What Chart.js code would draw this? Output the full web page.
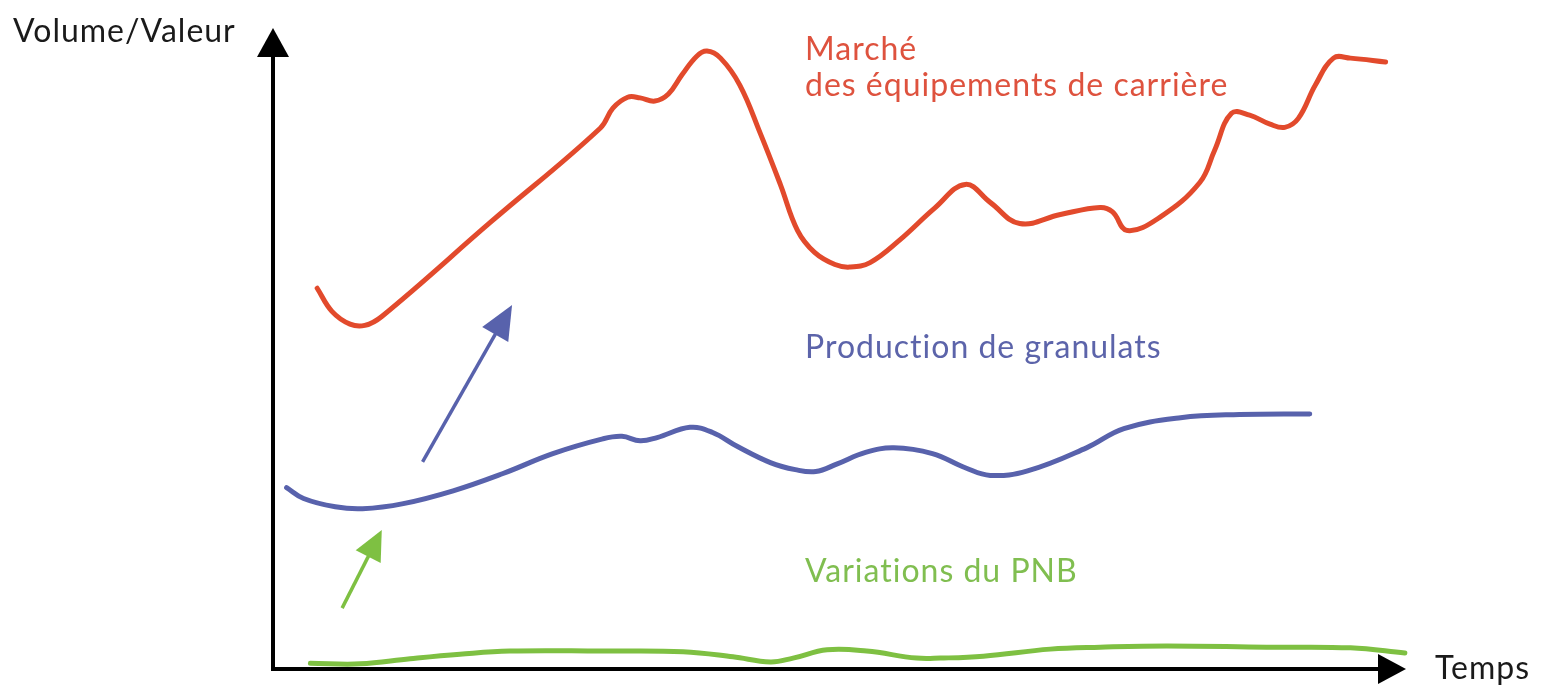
<!DOCTYPE html>
<html>
<head>
<meta charset="utf-8">
<script src="https://cdn.jsdelivr.net/npm/chart.js@4/dist/chart.umd.min.js"></script>
<style>
  html, body { margin: 0; padding: 0; background: #ffffff; overflow: hidden; }
  #wrap { width: 1546px; height: 685px; position: relative; }
</style>
</head>
<body>
<div id="wrap"><canvas id="c" width="1546" height="685"></canvas></div>
<script>
// Time axis (0-100) and value axis (0-100) in arbitrary units.
const marcheT = [3.9, 5.2, 6.8, 8.1, 9.6, 19.2, 28.9, 30.0, 31.3, 32.4, 33.7, 34.9, 36.1, 37.4, 38.3, 39.5, 41.2, 43.0, 44.8, 46.3, 47.8, 49.6, 50.9, 52.7, 55.3, 58.4, 61.1, 63.3, 65.9, 69.5, 73.0, 74.1, 75.4, 78.3, 81.8, 83.1, 84.6, 86.2, 88.0, 89.3, 90.5, 92.0, 93.6, 95.1, 98.2];
const marcheV = [59.4, 55.8, 53.8, 53.6, 55.0, 69.7, 84.4, 87.5, 89.2, 89.1, 88.6, 89.7, 92.7, 95.6, 96.4, 95.3, 91.1, 83.6, 75.5, 68.4, 65.0, 63.1, 62.7, 63.4, 66.9, 71.9, 75.6, 72.8, 69.5, 70.9, 72.0, 71.3, 68.4, 70.5, 75.9, 80.9, 86.7, 86.4, 85.0, 84.5, 85.9, 91.1, 95.3, 95.3, 94.7];

const granulatsT = [1.2, 2.7, 5.5, 7.9, 11.5, 15.9, 20.3, 24.7, 29.1, 30.8, 32.4, 33.9, 36.8, 38.8, 41.0, 43.9, 46.1, 47.9, 49.8, 52.3, 54.8, 58.2, 61.1, 63.3, 66.6, 71.8, 75.1, 80.1, 85.3, 91.5];
const granulatsV = [28.3, 26.6, 25.3, 25.0, 25.8, 27.8, 30.5, 33.6, 35.9, 36.3, 35.6, 36.1, 37.7, 36.9, 34.7, 32.2, 31.1, 30.8, 32.0, 33.8, 34.5, 33.6, 31.4, 30.2, 30.9, 34.5, 37.5, 39.2, 39.7, 39.8];

const pnbT = [3.3, 7.7, 12.1, 16.5, 20.9, 28.9, 36.2, 40.6, 43.9, 45.9, 48.9, 52.4, 56.8, 58.9, 62.7, 68.6, 73.0, 78.9, 87.7, 95.1, 99.9];
const pnbV = [0.9, 0.8, 1.6, 2.3, 2.8, 2.8, 2.7, 1.9, 1.1, 1.7, 3.0, 2.8, 1.7, 1.7, 2.0, 3.1, 3.4, 3.6, 3.4, 3.3, 2.5];

// Trend arrows: [tailT, tailV, tipT, tipV]
const granulatsArrow = [13.2, 32.3, 21.1, 56.8];
const pnbArrow = [6.1, 9.5, 9.6, 21.7];

const seriesNames = ['Marché\ndes équipements de carrière', 'Production de granulats', 'Variations du PNB'];
const axisTitles = ['Volume/Valeur', 'Temps'];

const RED = 'rgb(226, 74, 44)';
const BLUE = 'rgb(88, 98, 172)';
const GREEN = 'rgb(126, 192, 66)';
const RED_TXT = 'rgb(222, 82, 62)';
const BLUE_TXT = 'rgb(92, 100, 170)';
const GREEN_TXT = 'rgb(128, 190, 80)';
const FONT = 'Lato, "Open Sans", sans-serif';

const toPoints = (ts, vs) => ts.map((t, i) => ({ x: t, y: vs[i] }));

function arrowHead(ctx, x1, y1, x2, y2, len, half, color) {
  const a = Math.atan2(y2 - y1, x2 - x1);
  ctx.save();
  ctx.fillStyle = color;
  ctx.beginPath();
  ctx.moveTo(x2, y2);
  ctx.lineTo(x2 - len * Math.cos(a) + half * Math.sin(a), y2 - len * Math.sin(a) - half * Math.cos(a));
  ctx.lineTo(x2 - len * Math.cos(a) - half * Math.sin(a), y2 - len * Math.sin(a) + half * Math.cos(a));
  ctx.closePath();
  ctx.fill();
  ctx.restore();
}

const decorations = {
  id: 'decorations',
  afterDatasetsDraw(chart) {
    const { ctx, chartArea: ca, scales } = chart;
    const xs = scales.x, ys = scales.y;

    // Axes with arrowheads
    ctx.save();
    ctx.strokeStyle = '#000';
    ctx.lineWidth = 4;
    ctx.lineCap = 'butt';
    ctx.beginPath();
    ctx.moveTo(ca.left, ca.top + 20);
    ctx.lineTo(ca.left, ca.bottom);
    ctx.lineTo(ca.right - 20, ca.bottom);
    ctx.stroke();
    ctx.restore();
    arrowHead(ctx, ca.left, ca.bottom, ca.left, ca.top, 29, 16, '#000');
    arrowHead(ctx, ca.left, ca.bottom, ca.right, ca.bottom, 28, 15, '#000');

    // Trend arrows
    const drawTrend = (arr, color, width, len, half) => {
      const x1 = xs.getPixelForValue(arr[0]), y1 = ys.getPixelForValue(arr[1]);
      const x2 = xs.getPixelForValue(arr[2]), y2 = ys.getPixelForValue(arr[3]);
      const a = Math.atan2(y2 - y1, x2 - x1);
      ctx.save();
      ctx.strokeStyle = color;
      ctx.lineWidth = width;
      ctx.beginPath();
      ctx.moveTo(x1, y1);
      ctx.lineTo(x2 - (len - 4) * Math.cos(a), y2 - (len - 4) * Math.sin(a));
      ctx.stroke();
      ctx.restore();
      arrowHead(ctx, x1, y1, x2, y2, len, half, color);
    };
    drawTrend(granulatsArrow, BLUE, 3.5, 34, 15);
    drawTrend(pnbArrow, GREEN, 3.5, 30, 14);

    // Texts
    ctx.save();
    ctx.textAlign = 'left';
    ctx.textBaseline = 'alphabetic';
    ctx.font = '32px ' + FONT;
    if ('letterSpacing' in ctx) ctx.letterSpacing = '1px';
    ctx.fillStyle = '#1a1a1a';
    ctx.fillText(axisTitles[0], 13, 42);
    ctx.fillText(axisTitles[1], 1435, 679);

    ctx.fillStyle = RED_TXT;
    const lines = seriesNames[0].split('\n');
    ctx.fillText(lines[0], 805, 60);
    ctx.fillText(lines[1], 805, 96);
    ctx.fillStyle = BLUE_TXT;
    ctx.fillText(seriesNames[1], 805, 358);
    ctx.fillStyle = GREEN_TXT;
    ctx.fillText(seriesNames[2], 805, 582);
    ctx.restore();
  }
};

const lineStyle = (color) => ({
  borderColor: color,
  backgroundColor: color,
  borderWidth: 5,
  pointRadius: 0,
  pointHoverRadius: 0,
  tension: 0.4,
  fill: false,
  borderCapStyle: 'round',
  borderJoinStyle: 'round',
  clip: false
});

new Chart(document.getElementById('c'), {
  type: 'line',
  data: {
    datasets: [
      { label: seriesNames[0], data: toPoints(marcheT, marcheV), ...lineStyle(RED) },
      { label: seriesNames[1], data: toPoints(granulatsT, granulatsV), ...lineStyle(BLUE) },
      { label: seriesNames[2], data: toPoints(pnbT, pnbV), ...lineStyle(GREEN) }
    ]
  },
  options: {
    responsive: false,
    animation: false,
    devicePixelRatio: 1,
    layout: { padding: { left: 273, right: 140, top: 28, bottom: 16 } },
    plugins: { legend: { display: false }, tooltip: { enabled: false } },
    events: [],
    scales: {
      x: { type: 'linear', min: 0, max: 100, display: false },
      y: { type: 'linear', min: 0, max: 100, display: false }
    }
  },
  plugins: [decorations]
});
</script>
</body>
</html>
